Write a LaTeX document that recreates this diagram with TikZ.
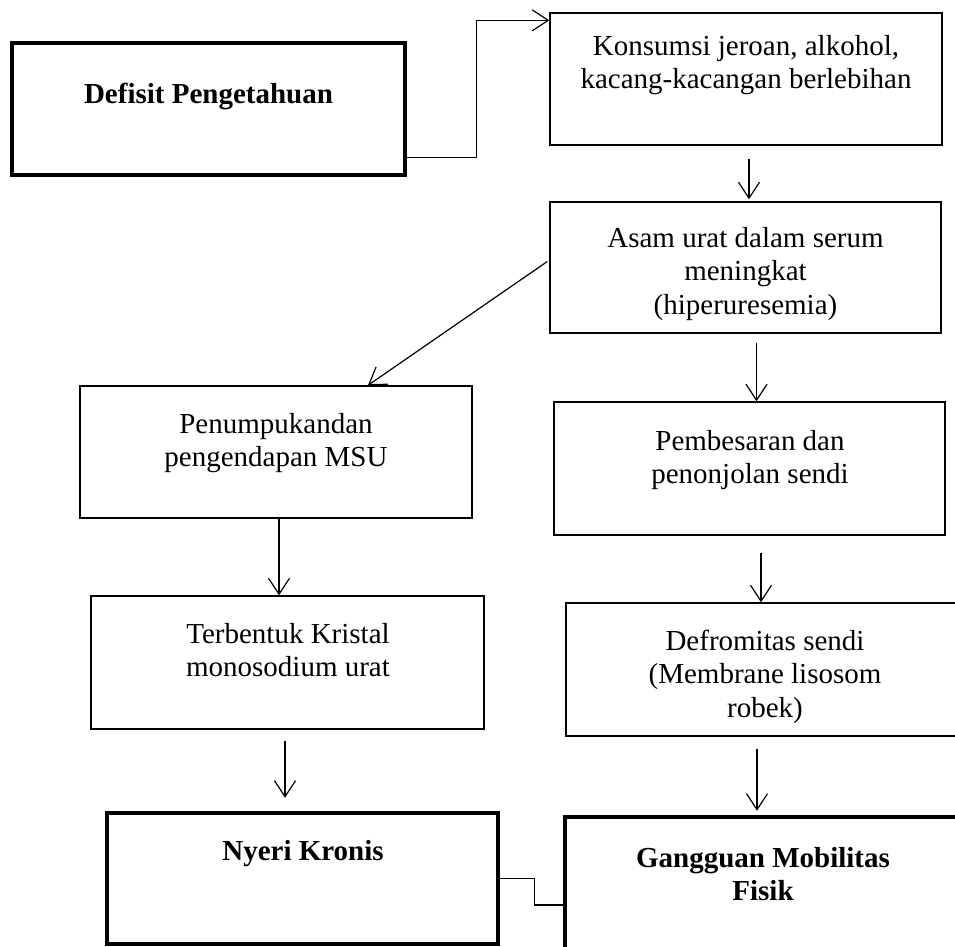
\documentclass[tikz,border=0pt]{standalone}
\usepackage{fontspec}
\setmainfont{Liberation Serif}
\usetikzlibrary{arrows.meta}
\newcommand\mylines[1]{\begin{tabular}[t]{@{}c@{}}#1\end{tabular}}
\tikzset{
  box/.style={draw, line width=1.4pt, inner sep=0pt},
  thickbox/.style={draw, line width=4.5pt, inner sep=0pt},
  txt/.style={anchor=base, inner sep=0pt, font=\fontsize{29}{33.5}\selectfont},
  btxt/.style={txt, font=\fontsize{29}{33.5}\selectfont\bfseries},
  arr/.style={line width=1.2pt, -{Straight Barb[length=16pt,width=21pt,line width=1.2pt]}},
  conn/.style={line width=1.2pt}
}
\begin{document}
\begin{tikzpicture}[x=1pt,y=-1pt]
\useasboundingbox (0,0) rectangle (955,946);
\fill[white] (0,0) rectangle (955,946);
\clip (0,0) rectangle (955,946);
% boxes
\node[thickbox, minimum width=393pt, minimum height=132pt] (def) at (208.5,109) {};
\node[box, minimum width=392pt, minimum height=132pt] (kon) at (746,79) {};
\node[box, minimum width=391pt, minimum height=131pt] (asam) at (745.5,267.5) {};
\node[box, minimum width=392pt, minimum height=132pt] (pen) at (276,452) {};
\node[box, minimum width=391pt, minimum height=133pt] (pem) at (749.5,468.5) {};
\node[box, minimum width=393pt, minimum height=133pt] (ter) at (287.5,662.5) {};
\node[box, minimum width=397pt, minimum height=133pt] (defr) at (764.5,669.5) {};
\node[thickbox, minimum width=391pt, minimum height=131pt] (nye) at (302.5,878.5) {};
\node[thickbox, minimum width=396pt, minimum height=135pt] (gan) at (763,884.5) {};
% texts
\node[btxt] (deft) at (208.5,103) {Defisit Pengetahuan};
\node[txt] (kont) at (746,55) {\mylines{Konsumsi jeroan, alkohol,\\kacang-kacangan berlebihan}};
\node[txt] (asamt) at (745.5,247) {\mylines{Asam urat dalam serum\\meningkat\\(hiperuresemia)}};
\node[txt] (pent) at (276,433) {\mylines{Penumpukandan\\pengendapan MSU}};
\node[txt] (pemt) at (750,450) {\mylines{Pembesaran dan\\penonjolan sendi}};
\node[txt] (tert) at (288,643) {\mylines{Terbentuk Kristal\\monosodium urat}};
\node[txt] (defrt) at (765,650) {\mylines{Defromitas sendi\\(Membrane lisosom\\robek)}};
\node[btxt] (nyet) at (303,860) {Nyeri Kronis};
\node[btxt] (gant) at (763,867) {\mylines{Gangguan Mobilitas\\Fisik}};
% connectors
\draw[arr] ([yshift=20pt]def.south east) -| ([xshift=-73pt,yshift=-8pt]kon.north west) -- ([yshift=-8pt]kon.north west);
\draw[arr] ([xshift=3pt,yshift=-13pt]kon.south) -- ([xshift=3.5pt,yshift=2pt]asam.north);
\draw[arr] ([xshift=-2pt,yshift=6pt]asam.west) -- ([xshift=92pt]pen.north);
\draw[arr] ([xshift=11pt,yshift=-9pt]asam.south) -- ([xshift=7pt]pem.north);
\draw[arr] ([xshift=3pt]pen.south) -- ([xshift=-8.5pt]ter.north);
\draw[arr] ([xshift=11.5pt,yshift=-17pt]pem.south) -- ([xshift=-3.5pt]defr.north);
\draw[arr] ([xshift=-2.5pt,yshift=-11pt]ter.south) -- ([xshift=-17.5pt,yshift=13pt]nye.north);
\draw[arr] ([xshift=-7.5pt,yshift=-12pt]defr.south) -- ([xshift=-6pt,yshift=4pt]gan.north);
\draw[conn] (nye.east) -- ++(34,0) |- ([yshift=-20.5pt]gan.west);
\end{tikzpicture}
\end{document}
